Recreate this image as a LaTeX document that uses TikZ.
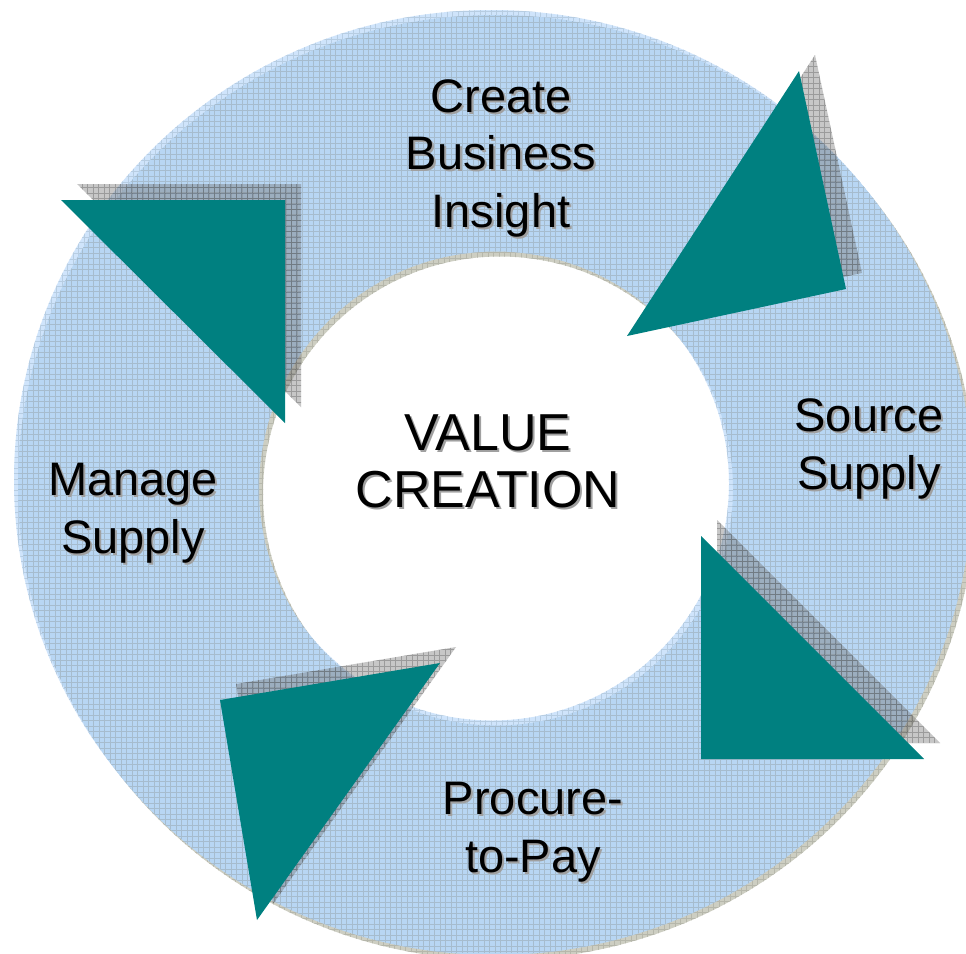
\documentclass[tikz,border=0pt]{standalone}
\usepackage{fontspec}
\setmainfont{Liberation Sans}
\definecolor{ringblue}{HTML}{B8D6F3}
\definecolor{ringline}{HTML}{A6BCCE}
\definecolor{halo}{HTML}{CFE4FB}
\definecolor{haloline}{HTML}{B7CDE2}
\definecolor{rshadow}{HTML}{CDCEC2}
\definecolor{rshadowline}{HTML}{B6B7AB}
\definecolor{tealfill}{HTML}{008080}
\definecolor{txtshadow}{HTML}{A0A0A0}
\newcommand\txtsh[1]{\leavevmode\rlap{\kern2pt\raisebox{-2pt}{\color{txtshadow}#1}}#1}
\newcommand\ringshape{(495,485) ellipse [x radius=477, y radius=470] (496,488.5) circle [radius=237]}
\newcommand\triA{(61,200) -- (285,200) -- (285,423) -- cycle}
\newcommand\triB{(799,71) -- (846,289) -- (627,336) -- cycle}
\newcommand\triC{(701,536) -- (701,759) -- (924,759) -- cycle}
\newcommand\triD{(220,700) -- (440,663) -- (257,920) -- cycle}
\tikzset{
  tri/.style={fill=tealfill},
  trishade/.style={fill=black!55, fill opacity=0.4},
  trishadegrid/.style={draw=black, draw opacity=0.22, line width=0.4pt},
  lbl/.style={align=center, inner sep=0pt, anchor=base, text=black,
    font=\fontsize{47}{57.5}\selectfont},
  biglbl/.style={lbl, font=\fontsize{52}{57}\selectfont},
}
\begin{document}
\begin{tikzpicture}[x=1pt,y=-1pt]
\fill[white] (0,0) rectangle (966,953);
\useasboundingbox (0,0) rectangle (966,953);
% ring shadow (down-right)
\begin{scope}[shift={(4,5)}]
  \fill[rshadow, even odd rule] \ringshape;
  \begin{scope}[even odd rule]
    \clip \ringshape;
    \draw[rshadowline, line width=0.35pt] (-10,-10) grid[step=5.5pt] (980,970);
  \end{scope}
\end{scope}
% ring halo (up-left)
\begin{scope}[shift={(-4,-5)}]
  \fill[halo, even odd rule] \ringshape;
  \begin{scope}[even odd rule]
    \clip \ringshape;
    \draw[haloline, line width=0.35pt] (-10,-10) grid[step=5.5pt] (980,970);
  \end{scope}
\end{scope}
% main ring
\fill[ringblue, even odd rule] \ringshape;
\begin{scope}[even odd rule]
  \clip \ringshape;
  \draw[ringline, line width=0.35pt] (0,0) grid[step=5.5pt] (966,953);
\end{scope}
% triangle shadows
\begin{scope}[shift={(16,-16)}]
  \foreach \t in {\triA,\triB,\triC,\triD}{
    \fill[trishade] \t;
    \begin{scope}
      \clip \t;
      \draw[trishadegrid] (-20,-20) grid[step=5.5pt] (990,990);
    \end{scope}
  }
\end{scope}
% triangles
\fill[tri] \triA;
\fill[tri] \triB;
\fill[tri] \triC;
\fill[tri] \triD;
% labels (anchor = baseline of last line)
\node[lbl] (insight) at (501,227) {\txtsh{Create}\\\txtsh{Business}\\\txtsh{Insight}};
\node[lbl] (source) at (869,489) {\txtsh{Source}\\\txtsh{Supply}};
\node[lbl] (manage) at (133,553) {\txtsh{Manage}\\\txtsh{Supply}};
\node[lbl] (ptp) at (533,872) {\txtsh{Procure-}\\\txtsh{to-Pay}};
\node[biglbl] (value) at (488,507) {\txtsh{VALUE}\\\txtsh{CREATION}};
\end{tikzpicture}
\end{document}
